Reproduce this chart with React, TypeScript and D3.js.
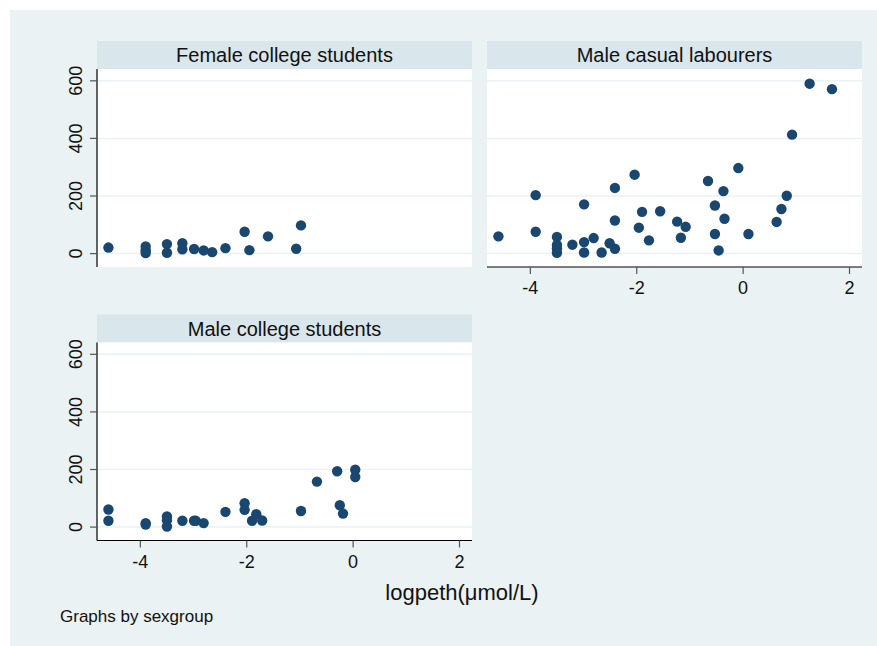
import * as d3 from "d3";

// chart size
const width = 877;
const height = 646;
const font = "'Liberation Sans', Arial, sans-serif";

// values
const femaleX = [-4.6, -3.9, -3.9, -3.9, -3.5, -3.5, -3.21, -3.21, -2.99, -2.81, -2.65, -2.4, -2.04, -1.95, -1.6, -1.07, -0.98];
const femaleY = [21, 25, 12, 2, 33, 3, 36, 15, 16, 11, 5, 19, 76, 12, 60, 17, 98];

const casualX = [-4.6, -3.9, -3.9, -3.5, -3.5, -3.5, -3.5, -3.21, -2.99, -2.99, -2.99, -2.81, -2.66, -2.51, -2.41, -2.41, -2.41, -2.04, -1.96, -1.9, -1.77, -1.56, -1.24, -1.17, -1.08, -0.66, -0.53, -0.53, -0.46, -0.37, -0.35, -0.09, 0.1, 0.63, 0.72, 0.82, 0.92, 1.25, 1.67];
const casualY = [60, 203, 76, 58, 30, 18, 3, 31, 171, 40, 4, 54, 4, 36, 228, 115, 17, 274, 90, 145, 46, 147, 111, 55, 93, 252, 167, 68, 11, 217, 121, 297, 68, 110, 155, 201, 413, 590, 571];

const maleX = [-4.6, -4.6, -3.9, -3.9, -3.5, -3.5, -3.5, -3.21, -2.99, -2.96, -2.81, -2.4, -2.04, -2.04, -1.9, -1.82, -1.71, -0.98, -0.68, -0.3, -0.25, -0.19, 0.04, 0.04];
const maleY = [61, 22, 14, 9, 37, 24, 2, 22, 22, 22, 14, 53, 83, 60, 22, 45, 23, 56, 158, 194, 76, 47, 199, 174];

const xTicks = [-4, -2, 0, 2];
const yTicks = [0, 200, 400, 600];

const panelW = 375;
const panelH = 198;
const stripH = 28;

// panel positions
const panels = [
  { title: "Female college students", xs: femaleX, ys: femaleY, left: 97, top: 69, yAxis: true, xAxis: false },
  { title: "Male casual labourers", xs: casualX, ys: casualY, left: 487, top: 69, yAxis: false, xAxis: true },
  { title: "Male college students", xs: maleX, ys: maleY, left: 97, top: 342.5, yAxis: true, xAxis: true },
];

const Panel = ({ p }: { p: any }) => {
  const x = d3.scaleLinear().domain([-4.815, 2.235]).range([p.left, p.left + panelW]);
  const y = d3.scaleLinear().domain([-46.5, 641]).range([p.top + panelH, p.top]);
  const bottom = p.top + panelH;
  return (
    <g>
      <rect x={p.left} y={p.top - stripH} width={panelW} height={stripH} fill="#d9e6eb" />
      <text x={p.left + panelW / 2} y={p.top - stripH / 2 + 7} textAnchor="middle" fontSize={20} fontFamily={font} fill="#111">
        {p.title}
      </text>
      <rect x={p.left} y={p.top} width={panelW} height={panelH} fill="#fff" />
      {yTicks.map((t) => (
        <line key={t} x1={p.left} x2={p.left + panelW} y1={y(t)} y2={y(t)} stroke="#eaf2f3" strokeWidth={1.5} />
      ))}
      {p.xs.map((v: number, i: number) => (
        <circle key={i} cx={x(v)} cy={y(p.ys[i])} r={5.2} fill="#1a476f" />
      ))}
      {p.yAxis && (
        <g>
          <line x1={p.left} x2={p.left} y1={p.top} y2={bottom} stroke="#000" strokeWidth={1.2} />
          {yTicks.map((t) => (
            <g key={t}>
              <line x1={p.left - 7} x2={p.left} y1={y(t)} y2={y(t)} stroke="#555" strokeWidth={1.2} />
              <text transform={`translate(${p.left - 15},${y(t)}) rotate(-90)`} textAnchor="middle" fontSize={18} fontFamily={font} fill="#111">
                {t}
              </text>
            </g>
          ))}
        </g>
      )}
      {p.xAxis && (
        <g>
          <line x1={p.left} x2={p.left + panelW} y1={bottom} y2={bottom} stroke="#000" strokeWidth={1.2} />
          {xTicks.map((t) => (
            <g key={t}>
              <line x1={x(t)} x2={x(t)} y1={bottom} y2={bottom + 7} stroke="#555" strokeWidth={1.2} />
              <text x={x(t)} y={bottom + 27} textAnchor="middle" fontSize={18} fontFamily={font} fill="#111">
                {t === 0 ? "0" : t < 0 ? "-" + Math.abs(t) : t}
              </text>
            </g>
          ))}
        </g>
      )}
    </g>
  );
};

const App = () => {
  return (
    <svg width={width} height={height} style={{ position: "absolute", left: 0, top: 0 }}>
      <rect x={0} y={0} width={width} height={height} fill="#fff" />
      <rect x={10} y={10} width={width - 10} height={height - 10} fill="#eaf2f3" />
      {panels.map((p) => (
        <Panel key={p.title} p={p} />
      ))}
      <text x={462} y={600} textAnchor="middle" fontSize={22} fontFamily={font} fill="#111">
        logpeth(μmol/L)
      </text>
      <text x={60} y={622} fontSize={17} fontFamily={font} fill="#111">
        Graphs by sexgroup
      </text>
    </svg>
  );
};

export default App;
